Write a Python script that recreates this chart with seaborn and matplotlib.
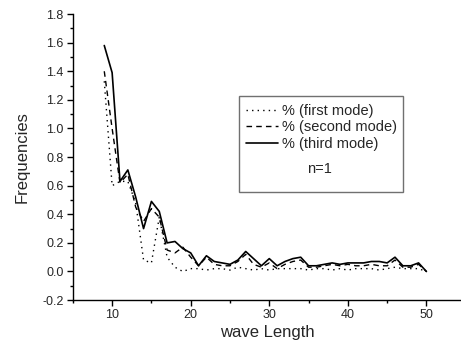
import numpy as np
import pandas as pd
import matplotlib
matplotlib.use("Agg")
import matplotlib.pyplot as plt
import seaborn as sns
from matplotlib.patches import Rectangle
from matplotlib.ticker import MultipleLocator

# wave length values 9..50
wave_length = list(range(9, 51))

first_mode = [1.33, 0.60, 0.63, 0.63, 0.48, 0.08, 0.06, 0.38, 0.10, 0.03,
              0.00, 0.02, 0.02, 0.01, 0.02, 0.02, 0.01, 0.03, 0.02, 0.01,
              0.02, 0.01, 0.02, 0.02, 0.02, 0.02, 0.01, 0.02, 0.02, 0.01,
              0.02, 0.01, 0.02, 0.02, 0.02, 0.01, 0.02, 0.03, 0.02, 0.02,
              0.02, 0.00]
second_mode = [1.40, 1.00, 0.62, 0.68, 0.45, 0.35, 0.44, 0.38, 0.15, 0.13,
               0.17, 0.10, 0.04, 0.10, 0.05, 0.04, 0.04, 0.07, 0.12, 0.05,
               0.03, 0.06, 0.02, 0.05, 0.07, 0.08, 0.03, 0.03, 0.04, 0.05,
               0.04, 0.05, 0.04, 0.04, 0.05, 0.04, 0.04, 0.08, 0.03, 0.03,
               0.05, 0.00]
third_mode = [1.58, 1.39, 0.63, 0.71, 0.52, 0.30, 0.49, 0.42, 0.20, 0.21,
              0.16, 0.13, 0.04, 0.11, 0.07, 0.06, 0.05, 0.08, 0.14, 0.09,
              0.04, 0.09, 0.04, 0.07, 0.09, 0.10, 0.04, 0.04, 0.05, 0.06,
              0.05, 0.06, 0.06, 0.06, 0.07, 0.07, 0.06, 0.10, 0.04, 0.04,
              0.06, 0.00]

labels = ["% (first mode)", "% (second mode)", "% (third mode)"]

sns.set_theme(style="ticks")
plt.rcParams['font.family'] = ['Liberation Sans', 'DejaVu Sans']

fig = plt.figure(figsize=(4.61, 3.51), dpi=100)
ax = fig.add_axes([0.158, 0.145, 0.842, 0.815])

styles = [(0, (1, 3)), (0, (4, 3)), "-"]
widths = [1.0, 1.0, 1.2]
for vals, lab, ls, lw in zip([first_mode, second_mode, third_mode], labels, styles, widths):
    sns.lineplot(x=wave_length, y=vals, ax=ax, color="black", linestyle=ls,
                 linewidth=lw, label=lab)

ax.set_xlim(5, 54.4)
ax.set_ylim(-0.2, 1.8)
ax.xaxis.set_major_locator(MultipleLocator(10))
ax.xaxis.set_minor_locator(MultipleLocator(5))
ax.yaxis.set_major_locator(MultipleLocator(0.2))
ax.yaxis.set_minor_locator(MultipleLocator(0.1))
ax.set_yticklabels([f"{v:.1f}" for v in ax.get_yticks()])
ax.tick_params(which="major", length=4.5, width=1, labelsize=9, color="black", pad=2)
ax.tick_params(which="minor", length=2.5, width=1, color="black")
for s in ["top", "right"]:
    ax.spines[s].set_visible(False)
for s in ["left", "bottom"]:
    ax.spines[s].set_color("black")
    ax.spines[s].set_linewidth(1)

ax.set_xlabel("wave Length", fontsize=12, labelpad=3)
ax.set_ylabel("Frequencies", fontsize=12, labelpad=9)

leg = ax.legend(loc="upper left", bbox_to_anchor=(0.43, 0.705), frameon=False,
                fontsize=10.5, handlelength=2.2, handletextpad=0.3,
                labelspacing=0.15, borderaxespad=0)
ax.add_patch(Rectangle((0.428, 0.378), 0.422, 0.335, transform=ax.transAxes,
                       fill=False, edgecolor="#707070", linewidth=1))
ax.text(0.636, 0.445, "n=1", transform=ax.transAxes, fontsize=10.5, ha="center")

fig.savefig("out.png", dpi=100)
